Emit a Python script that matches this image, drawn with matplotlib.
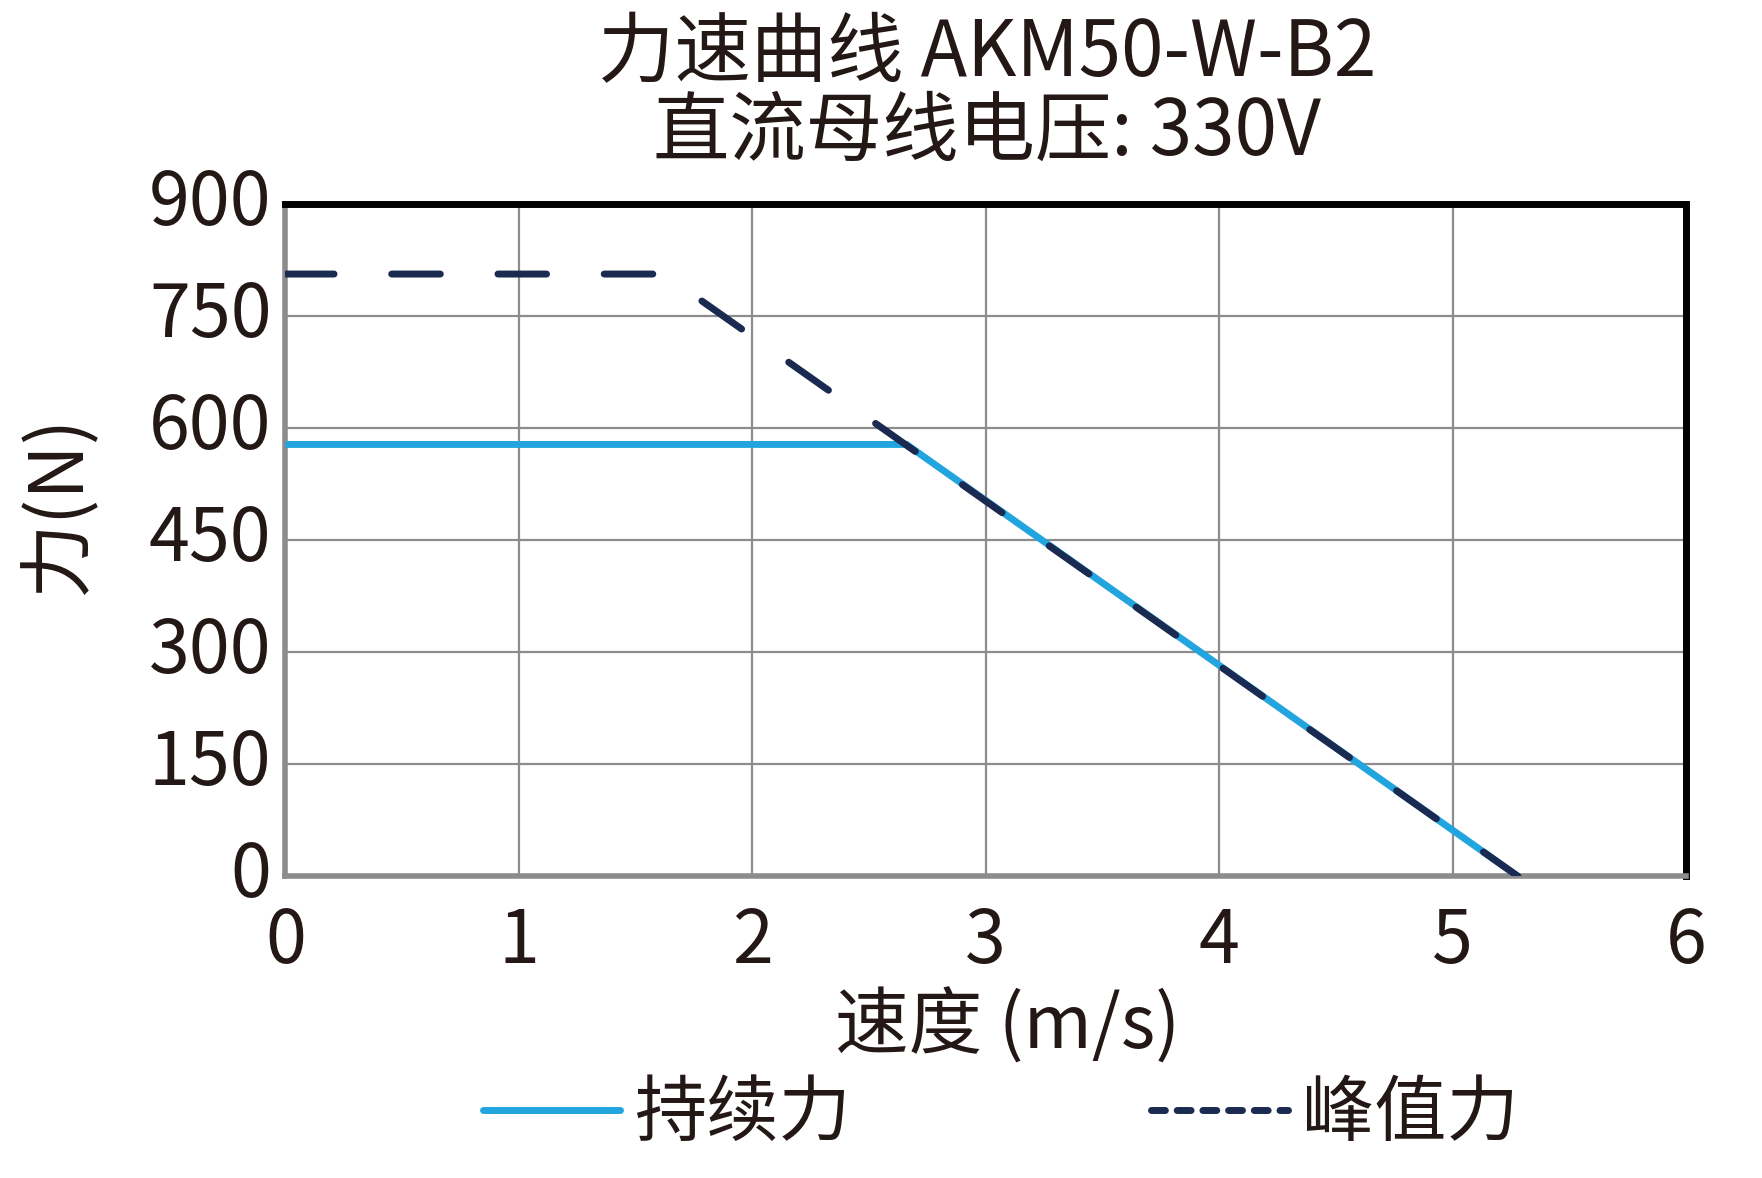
import matplotlib
matplotlib.use("Agg")
import matplotlib.pyplot as plt
import matplotlib.transforms as mtransforms
from matplotlib.lines import Line2D

plt.rcParams['font.family'] = ['Noto Sans CJK SC', 'DejaVu Sans']

# Data
cont_speed = [0, 2.66, 5.28]
cont_force = [578, 578, 0]
peak_speed = [0, 1.62, 5.28]
peak_force = [806, 806, 0]

x_ticks = [0, 1, 2, 3, 4, 5, 6]
y_ticks = [0, 150, 300, 450, 600, 750, 900]

title1 = "力速曲线 AKM50-W-B2"
title2 = "直流母线电压: 330V"
xlabel = "速度 (m/s)"
ylabel = "力(N)"
labels = ["持续力", "峰值力"]

text_c = "#231815"
blue = "#22a5de"
navy = "#1b2a50"
grid_c = "#8c8c8c"

fig = plt.figure(figsize=(17.62, 11.78), dpi=100)
ax = fig.add_axes([0.162, 0.256, 0.795, 0.571])

lw = 5
ax.plot(cont_speed, cont_force, color=blue, lw=lw, solid_capstyle='butt', zorder=3)
ax.plot(peak_speed, peak_force, color=navy, lw=lw, linestyle=(0, (7, 8.3)),
        dash_capstyle='round', zorder=4)

ax.set_xlim(0, 6)
ax.set_ylim(0, 900)
ax.set_xticks(x_ticks)
ax.set_yticks(y_ticks)
ax.grid(True, color=grid_c, lw=1.6)
ax.set_axisbelow(True)
ax.tick_params(length=0, labelsize=53, labelcolor=text_c)
ax.tick_params(axis='x', pad=20)
ax.tick_params(axis='y', pad=10)

# y tick labels sit slightly above their gridlines in the original
shift = mtransforms.ScaledTranslation(0, 6 / 72, fig.dpi_scale_trans)
for lab in ax.get_yticklabels():
    lab.set_transform(lab.get_transform() + shift)

for s in ['top', 'right']:
    ax.spines[s].set_color('black')
    ax.spines[s].set_linewidth(5)
for s in ['left', 'bottom']:
    ax.spines[s].set_color(grid_c)
    ax.spines[s].set_linewidth(4)
ax.axhline(0, color='black', lw=1.2, zorder=2.5)

fig.text(0.560, 0.954, title1, ha='center', va='center', fontsize=55, color=text_c)
fig.text(0.560, 0.887, title2, ha='center', va='center', fontsize=55, color=text_c)
fig.text(0.572, 0.128, xlabel, ha='center', va='center', fontsize=53, color=text_c)
fig.text(0.033, 0.571, ylabel, ha='center', va='center', fontsize=54, color=text_c,
         rotation=90)

handles = [
    Line2D([], [], color=blue, lw=lw, solid_capstyle='round'),
    Line2D([], [], color=navy, lw=lw, linestyle=(0, (2.0, 1.7)), dash_capstyle='round'),
]
leg = fig.legend(handles, labels, loc='center', bbox_to_anchor=(0.568, 0.054), ncol=2,
                 frameon=False, fontsize=52, handlelength=1.9, handletextpad=0.2,
                 columnspacing=4.15)
for t in leg.get_texts():
    t.set_color(text_c)

fig.savefig("out.png", dpi=100)
